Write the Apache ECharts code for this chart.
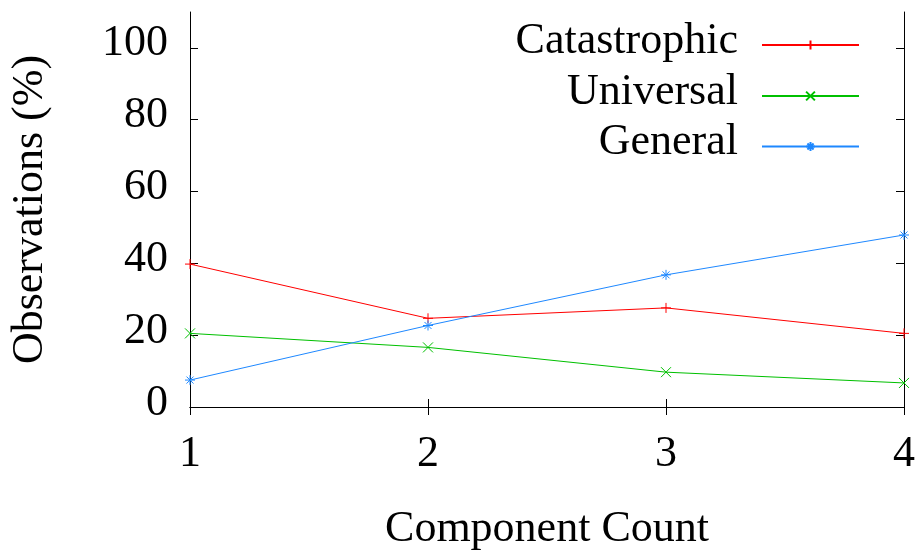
<!DOCTYPE html>
<html>
<head>
<meta charset="utf-8">
<script src="https://cdn.jsdelivr.net/npm/echarts@6/dist/echarts.min.js"></script>
<style>
  html, body { margin: 0; padding: 0; background: #fff; }
  #chart { width: 921px; height: 556px; }
</style>
</head>
<body>
<div id="chart"></div>
<script>
// Share of observations per component count
const componentCounts = [1, 2, 3, 4];
const catastrophic = [39.8, 24.7, 27.6, 20.5];
const universal = [20.5, 16.6, 9.7, 6.7];
const general = [7.5, 22.7, 36.8, 47.9];
const yTicks = [0, 20, 40, 60, 80, 100];
const seriesNames = ['Catastrophic', 'Universal', 'General'];

const FONT = '"Liberation Serif", "Times New Roman", serif';
const colors = ['#ff0000', '#00c000', '#1e88ff'];

// gnuplot-style point types: plus, cross, star
const symbols = [
  'path://M5,0L5,10M0,5L10,5',
  'path://M0,0L10,10M10,0L0,10',
  'path://M5,0L5,10M0,5L10,5M1.5,1.5L8.5,8.5M8.5,1.5L1.5,8.5'
];

function pairs(values) {
  return componentCounts.map((c, i) => [c, values[i]]);
}

const values = [catastrophic, universal, general];

const series = seriesNames.map((name, i) => ({
  name: name,
  type: 'line',
  data: pairs(values[i]),
  symbol: symbols[i],
  symbolSize: 10,
  showSymbol: true,
  lineStyle: { color: colors[i], width: 1 },
  itemStyle: { color: colors[i], borderColor: colors[i], borderWidth: 1 },
  emphasis: { disabled: true },
  silent: true
}));

// text sits a few pixels above the centre line, like gnuplot's labels
const raisedText = {
  fontFamily: FONT, fontSize: 44, color: '#000', padding: [0, 0, 8, 0]
};

// one key entry per row, right-aligned so the samples line up
const legendTops = [19, 70, 120.5];
const legends = seriesNames.map((name, i) => ({
  data: [name],
  orient: 'vertical',
  align: 'right',
  right: 61,
  top: legendTops[i],
  padding: 0,
  itemWidth: 97,
  itemHeight: 11,
  selectedMode: false,
  formatter: n => '{t|' + n + '}',
  textStyle: {
    fontFamily: FONT,
    fontSize: 44,
    color: '#000',
    rich: {
      t: Object.assign({}, raisedText, { padding: [0, 19, 8, 0] })
    }
  }
}));

const axisLine = { show: true, lineStyle: { color: '#000', width: 1 } };
const tickStyle = { color: '#000', width: 1 };

const chart = echarts.init(document.getElementById('chart'), null, { renderer: 'canvas' });
chart.setOption({
  animation: false,
  backgroundColor: '#fff',
  grid: { left: 188, right: 17, top: 12, bottom: 146, containLabel: false },
  legend: legends,
  xAxis: [
    {
      type: 'value',
      min: 1, max: 4, interval: 1,
      position: 'bottom',
      name: 'Component Count',
      nameLocation: 'middle',
      nameGap: 100,
      nameTextStyle: { fontFamily: FONT, fontSize: 44, color: '#000' },
      axisLine: axisLine,
      axisTick: { show: true, inside: true, length: 8, lineStyle: tickStyle },
      axisLabel: { fontFamily: FONT, fontSize: 44, color: '#000', margin: 25 },
      splitLine: { show: false }
    },
    {
      type: 'value',
      min: 1, max: 4, interval: 1,
      position: 'top',
      axisLine: axisLine,
      axisTick: { show: true, inside: true, length: 8, lineStyle: tickStyle },
      axisLabel: { show: false },
      splitLine: { show: false }
    }
  ],
  yAxis: [
    {
      type: 'value',
      min: 0, max: 110, interval: 20,
      position: 'left',
      name: 'Observations (%)',
      nameLocation: 'middle',
      nameGap: 138,
      nameTextStyle: { fontFamily: FONT, fontSize: 44, color: '#000' },
      axisLine: axisLine,
      axisTick: { show: true, inside: true, length: 8, lineStyle: tickStyle, customValues: yTicks },
      axisLabel: {
        fontFamily: FONT, fontSize: 44, color: '#000', margin: 22,
        customValues: yTicks,
        formatter: v => '{v|' + v + '}',
        rich: { v: raisedText }
      },
      splitLine: { show: false }
    },
    {
      type: 'value',
      min: 0, max: 110, interval: 20,
      position: 'right',
      axisLine: axisLine,
      axisTick: { show: true, inside: true, length: 8, lineStyle: tickStyle, customValues: yTicks },
      axisLabel: { show: false },
      splitLine: { show: false }
    }
  ],
  series: series
});
</script>
</body>
</html>
